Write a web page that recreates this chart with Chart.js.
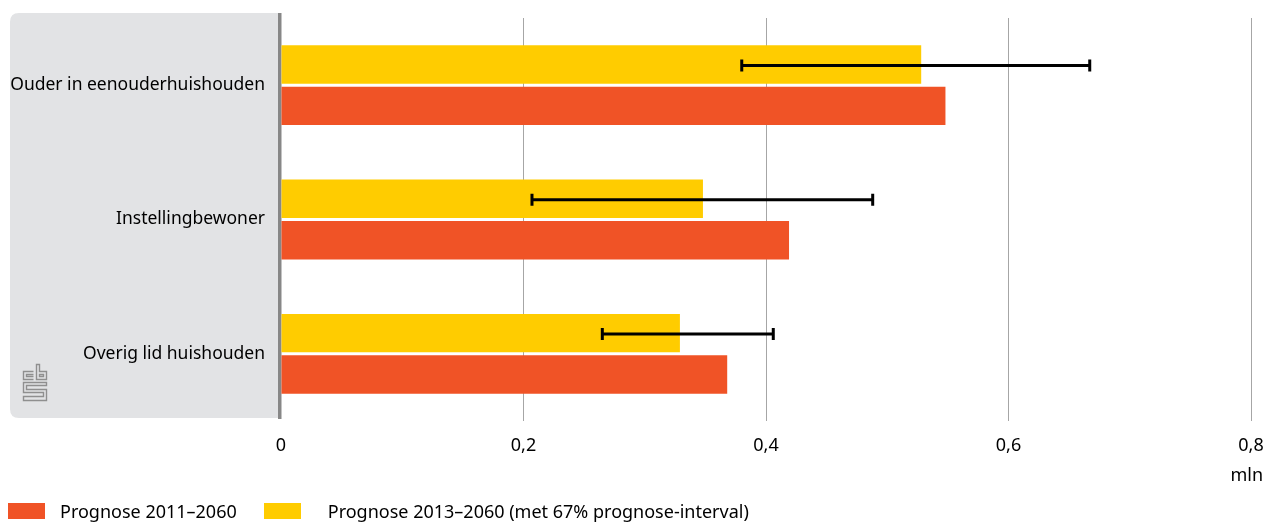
<!DOCTYPE html>
<html>
<head>
<meta charset="utf-8">
<script src="https://cdn.jsdelivr.net/npm/chart.js@4"></script>
<style>
  html, body { margin: 0; padding: 0; background: #fff; }
  #wrap { position: relative; width: 1273px; height: 522px; font-family: "Noto Sans", sans-serif; }
  #legend { position: absolute; left: 8px; top: 499px; display: flex; font-size: 18px; color: #000; }
  .item { display: flex; align-items: center; margin-right: 27px; }
  .box { width: 37px; height: 16px; }
</style>
</head>
<body>
<div id="wrap">
  <canvas id="chart" width="1273" height="522"></canvas>
  <div id="legend"></div>
</div>
<script>
// Categorieën en waarden (mln)
const categories = ['Ouder in eenouderhuishouden', 'Instellingbewoner', 'Overig lid huishouden'];
const prognose2013 = [0.528, 0.348, 0.329];
const prognose2011 = [0.548, 0.419, 0.368];
// 67% prognose-interval
const intervalLow = [0.380, 0.207, 0.265];
const intervalHigh = [0.667, 0.488, 0.406];
const tickValues = [0, 0.2, 0.4, 0.6, 0.8];
const unitLabel = 'mln';

const YELLOW = '#ffcc00';
const RED = '#f05326';

// Grijs paneel achter de labels, aslijn en logo
const panelPlugin = {
    id: 'panel',
    beforeDraw(chart) {
        const { ctx, chartArea } = chart;
        const x0 = 10, x1 = chartArea.left - 1, y0 = 13, y1 = 418, r = 9;
        ctx.save();
        ctx.fillStyle = '#e2e3e5';
        ctx.beginPath();
        ctx.moveTo(x1, y0);
        ctx.lineTo(x0 + r, y0);
        ctx.quadraticCurveTo(x0, y0, x0, y0 + r);
        ctx.lineTo(x0, y1 - r);
        ctx.quadraticCurveTo(x0, y1, x0 + r, y1);
        ctx.lineTo(x1, y1);
        ctx.closePath();
        ctx.fill();

        // cbs-logo (benadering)
        ctx.strokeStyle = '#8f8f8f';
        ctx.lineWidth = 1.4;
        const lx = 23.5, ly = 364.5;
        ctx.beginPath();
        // c
        ctx.moveTo(lx + 10, ly + 7); ctx.lineTo(lx, ly + 7); ctx.lineTo(lx, ly + 15); ctx.lineTo(lx + 10, ly + 15);
        ctx.moveTo(lx + 10, ly + 10); ctx.lineTo(lx + 3, ly + 10); ctx.lineTo(lx + 3, ly + 12); ctx.lineTo(lx + 10, ly + 12);
        // b
        ctx.moveTo(lx + 13, ly + 15); ctx.lineTo(lx + 13, ly); ctx.lineTo(lx + 16, ly); ctx.lineTo(lx + 16, ly + 7);
        ctx.lineTo(lx + 23, ly + 7); ctx.lineTo(lx + 23, ly + 15); ctx.closePath();
        ctx.rect(lx + 16, ly + 10, 4, 2);
        // s
        ctx.moveTo(lx + 23, ly + 18); ctx.lineTo(lx, ly + 18); ctx.lineTo(lx, ly + 28); ctx.lineTo(lx + 20, ly + 28);
        ctx.lineTo(lx + 20, ly + 32); ctx.lineTo(lx, ly + 32); ctx.lineTo(lx, ly + 36); ctx.lineTo(lx + 23, ly + 36);
        ctx.lineTo(lx + 23, ly + 25); ctx.lineTo(lx + 3, ly + 25); ctx.lineTo(lx + 3, ly + 21); ctx.lineTo(lx + 23, ly + 21);
        ctx.closePath();
        ctx.stroke();

        // verticale aslijn
        ctx.fillStyle = '#878787';
        ctx.fillRect(chartArea.left - 3, 13, 3.5, 406);
        ctx.restore();
    },
    afterDraw(chart) {
        // eenheid rechts onder de as, uitgelijnd met het laatste tiklabel
        const { ctx, scales } = chart;
        ctx.save();
        ctx.font = '18px "Noto Sans"';
        ctx.fillStyle = '#000';
        ctx.textAlign = 'right';
        ctx.textBaseline = 'middle';
        ctx.fillText(unitLabel, scales.x.getPixelForValue(tickValues[tickValues.length - 1]) + 12, 476);
        ctx.restore();
    }
};

// Foutbalken voor het prognose-interval
const errorBarPlugin = {
    id: 'errorBars',
    afterDatasetsDraw(chart) {
        const { ctx, scales } = chart;
        const meta = chart.getDatasetMeta(0);
        ctx.save();
        ctx.strokeStyle = '#000';
        ctx.lineWidth = 3;
        meta.data.forEach((bar, i) => {
            const y = bar.y + 1;
            const xl = scales.x.getPixelForValue(intervalLow[i]);
            const xh = scales.x.getPixelForValue(intervalHigh[i]);
            ctx.beginPath();
            ctx.moveTo(xl, y); ctx.lineTo(xh, y);
            ctx.moveTo(xl, y - 6); ctx.lineTo(xl, y + 6);
            ctx.moveTo(xh, y - 6); ctx.lineTo(xh, y + 6);
            ctx.stroke();
        });
        ctx.restore();
    }
};

new Chart(document.getElementById('chart'), {
    type: 'bar',
    data: {
        labels: categories,
        datasets: [
            { label: 'Prognose 2013–2060 (met 67% prognose-interval)', data: prognose2013, backgroundColor: YELLOW },
            { label: 'Prognose 2011–2060', data: prognose2011, backgroundColor: RED }
        ]
    },
    options: {
        indexAxis: 'y',
        responsive: false,
        animation: false,
        categoryPercentage: 0.617,
        barPercentage: 0.928,
        layout: { padding: { top: 18, right: 22, bottom: 30, left: 0 } },
        plugins: { legend: { display: false }, tooltip: { enabled: false } },
        scales: {
            x: {
                min: 0, max: 0.8,
                afterBuildTicks: scale => { scale.ticks = tickValues.map(v => ({ value: v })); },
                afterFit: scale => {
                    scale.height = 71;
                    scale.paddingLeft = 0;
                    scale.paddingRight = 0;
                },
                grid: {
                    color: ctx => ctx.tick && ctx.tick.value === 0 ? 'rgba(0,0,0,0)' : '#a6a6a6',
                    lineWidth: 1,
                    drawTicks: false
                },
                border: { display: false },
                ticks: {
                    padding: 14,
                    color: '#000',
                    font: { family: 'Noto Sans', size: 18 },
                    callback: v => String(v).replace('.', ',')
                }
            },
            y: {
                afterFit: scale => {
                    scale.width = 281;
                    scale.paddingTop = 0;
                    scale.paddingBottom = 0;
                },
                grid: { display: false },
                border: { display: false },
                ticks: { padding: 8, color: '#000', font: { family: 'Noto Sans', size: 17.5 } }
            }
        }
    },
    plugins: [panelPlugin, errorBarPlugin]
});

// Legenda
const legendItems = [
    { text: 'Prognose 2011–2060', color: RED, gap: 15 },
    { text: 'Prognose 2013–2060 (met 67% prognose-interval)', color: YELLOW, gap: 27 }
];
const legend = document.getElementById('legend');
legendItems.forEach(item => {
    const el = document.createElement('div');
    el.className = 'item';
    el.innerHTML = `<span class="box" style="background:${item.color};margin-right:${item.gap}px"></span><span>${item.text}</span>`;
    legend.appendChild(el);
});
</script>
</body>
</html>
